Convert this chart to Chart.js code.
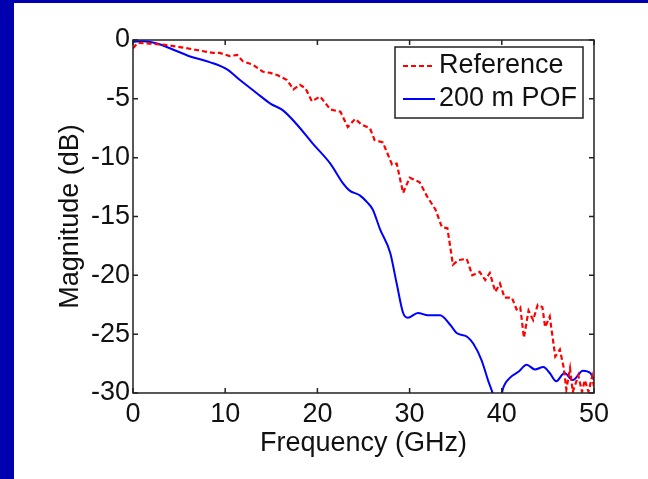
<!DOCTYPE html>
<html>
<head>
<meta charset="utf-8">
<script src="https://cdn.jsdelivr.net/npm/chart.js@4/dist/chart.umd.min.js"></script>
<style>
  html, body { margin: 0; padding: 0; background: #fff; }
  #wrap { width: 648px; height: 479px; position: relative; }
</style>
</head>
<body>
<div id="wrap"><canvas id="linechart"></canvas></div>
<script>
'use strict';

// Frequency response, magnitude in dB

var freqRef = [0, 0.5, 1.8, 3.3, 5.1, 6.9, 8.7, 9.4, 10.5, 11.3, 11.9, 13, 14.1, 14.9, 15.7, 16.7, 17.4, 18.1, 18.7, 19.4,
	20.3, 21.4, 22.5, 23.3, 24.1, 24.8, 25.7, 26.2, 27.1, 28.1, 28.6, 29.3, 30, 31.1, 31.9, 32.8, 33.5, 34.1, 34.7, 35.3,
	36.2, 36.8, 37.6, 38.2, 38.7, 39.3, 39.8, 40.3, 41.1, 41.6, 42, 42.4, 42.9, 43.4, 43.9, 44.4, 44.7, 45.2, 45.8, 46.3,
	46.7, 47, 47.4, 47.7, 48.3, 48.7, 49, 49.4, 49.8, 50];
var magRef = [-0.7, -0.25, -0.3, -0.4, -0.6, -0.85, -1.1, -1.1, -1.36, -1.27, -1.8, -2.1, -2.7, -2.8, -3.0, -3.4, -4.2, -3.8, -4.1, -5.2,
	-4.8, -5.9, -6.1, -7.4, -6.7, -7.2, -7.5, -8.5, -8.7, -10.6, -10.5, -13, -11.7, -12.1, -13.3, -14.4, -15.9, -16, -19.1, -18.7,
	-18.6, -20, -19.7, -20.4, -19.8, -21.4, -20.7, -21.9, -21.9, -22.9, -22.7, -25.3, -23, -23.8, -22.5, -22.7, -24.4, -23.5, -26.9, -26.3,
	-27.8, -29.7, -27.9, -29.9, -28.5, -29.9, -28.9, -29.9, -28.6, -29.5];

var freqPof = [0, 1.1, 2.6, 4, 6.2, 8.4, 10.2, 11.6, 13.4, 14.9, 16.3, 17.8, 19.5, 21.4, 22.8, 23.5, 24.6, 25.4, 26, 26.8,
	27.9, 28.6, 29.3, 29.8, 30.9, 32, 33.3, 34.4, 35.1, 36.2, 36.9, 37.8, 38.5, 39, 39.4, 39.8, 40.1, 40.9, 41.8, 42.7,
	43.6, 44.5, 45.2, 45.9, 46.8, 47.7, 48.8, 49.6, 50];
var magPof = [-0.15, -0.1, -0.3, -0.7, -1.4, -1.9, -2.5, -3.4, -4.5, -5.4, -6, -7.2, -8.8, -10.5, -12.2, -12.8, -13.2, -13.8, -14.4, -16.1,
	-18.1, -20.7, -23.2, -23.6, -23.2, -23.4, -23.4, -24.2, -24.9, -25.2, -25.8, -27.2, -28.9, -30, -31, -31, -29.7, -28.7, -28.2, -27.6,
	-28, -27.8, -28.3, -29, -28.3, -28.9, -28.1, -28.3, -28.9];

var xTicks = [0, 10, 20, 30, 40, 50];
var yTicks = [0, -5, -10, -15, -20, -25, -30];
var seriesNames = ['Reference', '200 m POF'];

var FONT = "'Liberation Sans', Arial, sans-serif";

function pts(xs, ys) {
	return xs.map(function (x, i) { return {x: x, y: ys[i]}; });
}

// slide background, frame, inward ticks, legend box
var decor = {
	id: 'decor',
	beforeDraw: function (chart) {
		var c = chart.ctx;
		c.save();
		c.fillStyle = '#0000b0';
		c.fillRect(0, 0, chart.width, chart.height);
		c.fillStyle = '#fff';
		c.fillRect(14, 3, chart.width - 14, chart.height - 3);
		c.restore();
	},
	afterDraw: function (chart) {
		var c = chart.ctx, a = chart.chartArea;
		var xs = chart.scales.x, ys = chart.scales.y;
		c.save();
		c.strokeStyle = '#222';
		c.lineWidth = 1.5;
		c.strokeRect(a.left, a.top, a.right - a.left, a.bottom - a.top);
		c.beginPath();
		xTicks.forEach(function (v) {
			var px = xs.getPixelForValue(v);
			c.moveTo(px, a.bottom); c.lineTo(px, a.bottom - 5);
			c.moveTo(px, a.top); c.lineTo(px, a.top + 5);
		});
		yTicks.forEach(function (v) {
			var py = ys.getPixelForValue(v);
			c.moveTo(a.left, py); c.lineTo(a.left + 5, py);
			c.moveTo(a.right, py); c.lineTo(a.right - 5, py);
		});
		c.stroke();

		// legend
		c.fillStyle = '#fff';
		c.fillRect(395, 47, 188, 71);
		c.strokeRect(395, 47, 188, 71);
		var ds = chart.data.datasets;
		var rows = [66, 99];
		ds.forEach(function (d, i) {
			c.beginPath();
			c.strokeStyle = d.borderColor;
			c.lineWidth = d.borderWidth;
			c.setLineDash(d.borderDash || []);
			c.moveTo(403, rows[i]); c.lineTo(435, rows[i]);
			c.stroke();
			c.setLineDash([]);
			c.fillStyle = '#111';
			c.font = '27px ' + FONT;
			c.textBaseline = 'middle';
			c.fillText(d.label, 439, rows[i]);
		});
		c.restore();
	}
};

var ctx = document.getElementById('linechart');

var lineChart = new Chart(ctx, {
	type: 'line',
	data: {
		datasets: [{
			label: seriesNames[0],
			data: pts(freqRef, magRef),
			borderColor: '#ff0000',
			borderWidth: 2.2,
			borderDash: [5, 3],
			tension: 0,
			pointRadius: 0
		}, {
			label: seriesNames[1],
			data: pts(freqPof, magPof),
			borderColor: '#0000ff',
			borderWidth: 2,
			cubicInterpolationMode: 'monotone',
			pointRadius: 0
		}]
	},
	options: {
		responsive: true,
		maintainAspectRatio: false,
		animation: false,
		layout: {padding: {left: 50, top: 40, right: 54, bottom: 15}},
		plugins: {legend: {display: false}, tooltip: {enabled: false}},
		scales: {
			x: {
				type: 'linear',
				min: 0, max: 50,
				grid: {display: false, drawTicks: false},
				border: {display: false},
				afterBuildTicks: function (s) { s.ticks = xTicks.map(function (v) { return {value: v}; }); },
				afterFit: function (s) { s.height = 71; },
				ticks: {padding: 5, color: '#111', font: {family: FONT, size: 27}, maxRotation: 0},
				title: {display: true, text: 'Frequency (GHz)', color: '#111', font: {family: FONT, size: 27}}
			},
			y: {
				min: -30, max: 0,
				grid: {display: false, drawTicks: false},
				border: {display: false},
				afterBuildTicks: function (s) { s.ticks = yTicks.map(function (v) { return {value: v}; }); },
				afterFit: function (s) { s.width = 83; },
				ticks: {padding: 3, color: '#111', font: {family: FONT, size: 27}},
				title: {display: true, text: 'Magnitude (dB)', color: '#111', font: {family: FONT, size: 27}}
			}
		}
	},
	plugins: [decor]
});
</script>
</body>
</html>
